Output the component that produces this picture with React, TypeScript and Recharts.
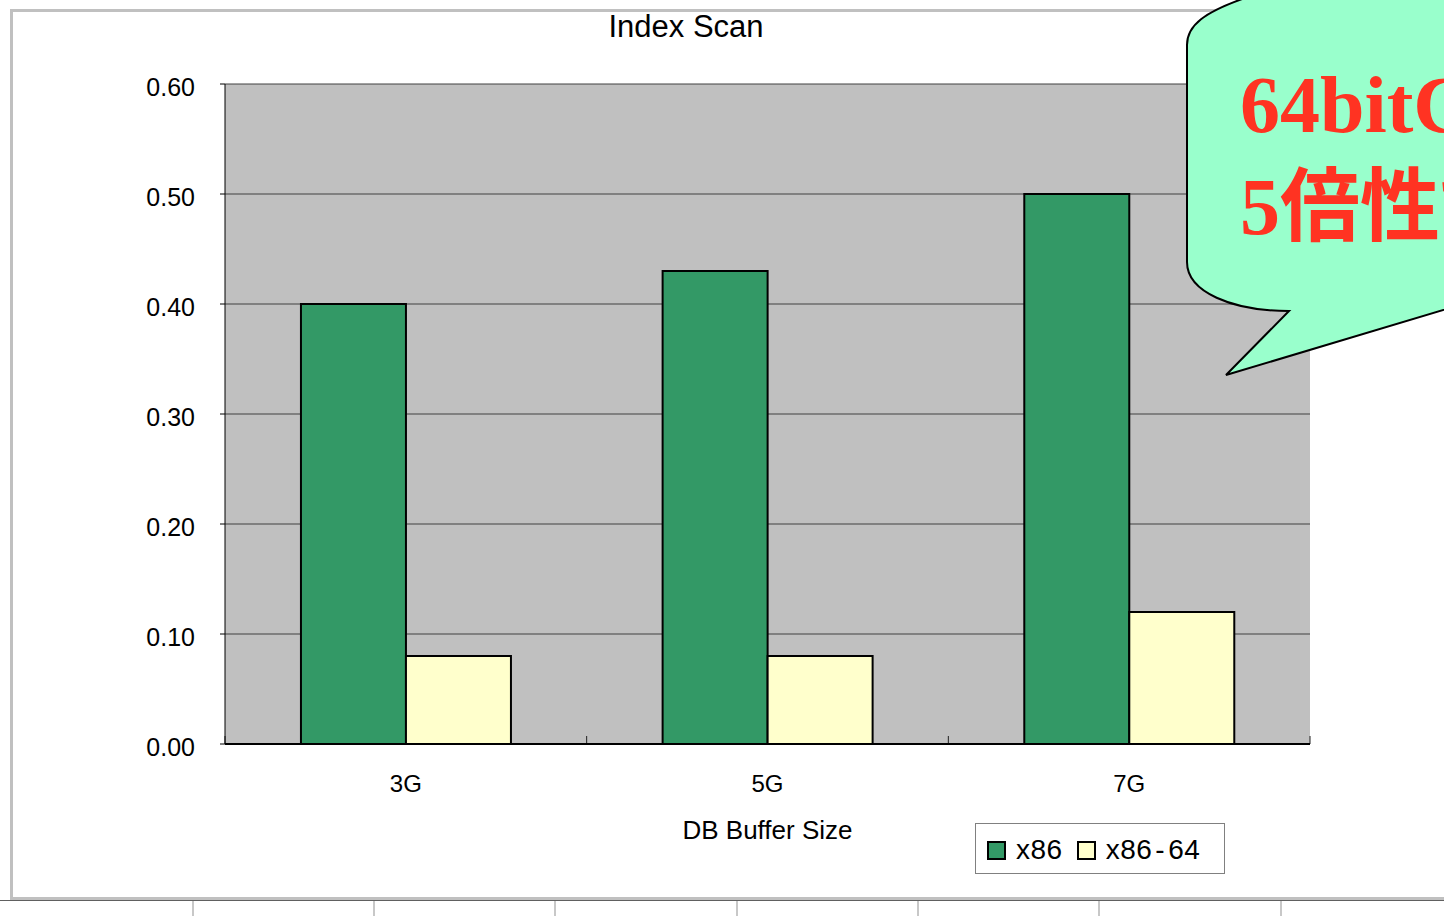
import React from 'react';
import { BarChart, Bar, XAxis, YAxis, CartesianGrid } from 'recharts';

const categories = ['3G', '5G', '7G'];
const x86Values = [0.4, 0.43, 0.5];
const x8664Values = [0.08, 0.08, 0.12];
const yTicks = [0, 0.1, 0.2, 0.3, 0.4, 0.5, 0.6];
const separatorTicks = [0, 1, 2, 3];

const seriesList = [
  { key: 'x86', name: 'x86', color: '#339966' },
  { key: 'x8664', name: 'x86-64', color: '#ffffcc' },
];

const data = categories.map((label, i) => ({
  label,
  pos: i + 0.5,
  x86: x86Values[i],
  x8664: x8664Values[i],
}));

const FONT = '"Liberation Sans", Arial, sans-serif';
const sheetCols = [193, 374, 555, 737, 918, 1099, 1281];

// separator axis only needs its tick lines, no labels
const NoLabel = () => <g />;

// legend label with the hyphen spaced out a little, like the original
const LegendName = ({ name }: { name: string }) => {
  const parts = name.split('-');
  return (
    <span>
      {parts.map((p, i) => (
        <React.Fragment key={i}>
          {i > 0 && <span style={{ margin: '0 3px' }}>-</span>}
          {p}
        </React.Fragment>
      ))}
    </span>
  );
};

export default function App() {
  return (
    <div
      style={{
        position: 'fixed',
        top: 0,
        left: 0,
        width: 1444,
        height: 916,
        overflow: 'hidden',
        background: '#fff',
        fontFamily: FONT,
      }}
    >
      {/* chart frame + spreadsheet cells below */}
      <svg width={1444} height={916} style={{ position: 'absolute', top: 0, left: 0 }}>
        <rect x={11.5} y={10.5} width={1500} height={888} fill="none" stroke="#c0c0c0" strokeWidth={3} />
        <line x1={0} x2={1444} y1={900.5} y2={900.5} stroke="#606060" strokeWidth={1} />
        {sheetCols.map((x) => (
          <line key={x} x1={x} x2={x} y1={901} y2={916} stroke="#c8c8c8" strokeWidth={2} />
        ))}
      </svg>

      <div
        style={{
          position: 'absolute',
          top: 9,
          left: 0,
          width: 1372,
          textAlign: 'center',
          fontSize: 31,
          lineHeight: '36px',
          color: '#000',
        }}
      >
        Index Scan
      </div>

      <div style={{ position: 'absolute', top: 0, left: 0 }}>
        <BarChart
          width={1444}
          height={916}
          data={data}
          margin={{ top: 84, right: 134, left: 125, bottom: 52 }}
          barCategoryGap="21%"
          barGap={0}
          style={{ fontFamily: FONT }}
        >
          <CartesianGrid
            vertical={false}
            stroke="#404040"
            strokeWidth={1}
            fill="#c0c0c0"
            fillOpacity={1}
            yAxisId="left"
            xAxisId="cat"
          />
          <XAxis
            xAxisId="sep"
            dataKey="pos"
            type="number"
            domain={[0, 3]}
            allowDataOverflow
            ticks={separatorTicks}
            interval={0}
            height={1}
            mirror
            axisLine={false}
            tickSize={8}
            tickLine={{ stroke: '#202020', strokeWidth: 1 }}
            tick={<NoLabel />}
          />
          <XAxis
            xAxisId="cat"
            dataKey="label"
            height={120}
            tickSize={0}
            tickMargin={31}
            axisLine={{ stroke: '#000', strokeWidth: 2 }}
            tick={{ fill: '#000', fontSize: 24 }}
            label={{
              value: 'DB Buffer Size',
              position: 'insideBottom',
              offset: 25,
              fill: '#000',
              fontSize: 26,
            }}
          />
          <YAxis
            yAxisId="left"
            width={100}
            domain={[0, 0.6]}
            ticks={yTicks}
            interval={0}
            tickSize={5}
            tickMargin={25}
            axisLine={{ stroke: '#000', strokeWidth: 1 }}
            tickLine={{ stroke: '#000' }}
            tick={{ fill: '#000', fontSize: 25, dy: 3 }}
            tickFormatter={(v: number) => v.toFixed(2)}
          />
          <YAxis
            yAxisId="right"
            orientation="right"
            width={0}
            tick={false}
            axisLine={{ stroke: '#808080', strokeWidth: 2 }}
          />
          {seriesList.map((s) => (
            <Bar
              key={s.key}
              dataKey={s.key}
              name={s.name}
              xAxisId="cat"
              yAxisId="left"
              fill={s.color}
              stroke="#000"
              strokeWidth={2}
              isAnimationActive={false}
            />
          ))}
        </BarChart>
      </div>

      {/* legend */}
      <div
        style={{
          position: 'absolute',
          left: 975,
          top: 823,
          width: 248,
          height: 49,
          border: '1px solid #808080',
          background: '#fff',
          display: 'flex',
          alignItems: 'center',
          fontSize: 28,
          color: '#000',
        }}
      >
        {seriesList.map((s, i) => (
          <div
            key={s.key}
            style={{ display: 'flex', alignItems: 'center', marginLeft: i === 0 ? 11 : 14, marginTop: 3 }}
          >
            <span
              style={{
                display: 'inline-block',
                width: 15,
                height: 15,
                background: s.color,
                border: '2px solid #000',
                marginRight: 10,
              }}
            />
            <span style={{ letterSpacing: 0.5 }}>
              <LegendName name={s.name} />
            </span>
          </div>
        ))}
      </div>

      {/* callout bubble */}
      <svg width={1444} height={916} style={{ position: 'absolute', top: 0, left: 0, pointerEvents: 'none' }}>
        <path
          d="M 1245 -2 C 1205 12, 1187 25, 1187 45 L 1187 262 C 1187 292, 1232 311, 1289 311 L 1226 375 L 1470 302 L 1470 -2 Z"
          fill="#99ffcc"
          stroke="#000"
          strokeWidth={2}
        />
        <text
          x={1240}
          y={132}
          fill="#ff3322"
          fontSize={80}
          fontWeight="bold"
          fontFamily='"Liberation Serif", "Times New Roman", serif'
        >
          64bitCPU
        </text>
        <text
          x={1240}
          y={234}
          fill="#ff3322"
          fontSize={80}
          fontWeight="bold"
          fontFamily='"Liberation Serif", "Noto Sans CJK JP", serif'
        >
          5倍性能
        </text>
      </svg>
    </div>
  );
}
